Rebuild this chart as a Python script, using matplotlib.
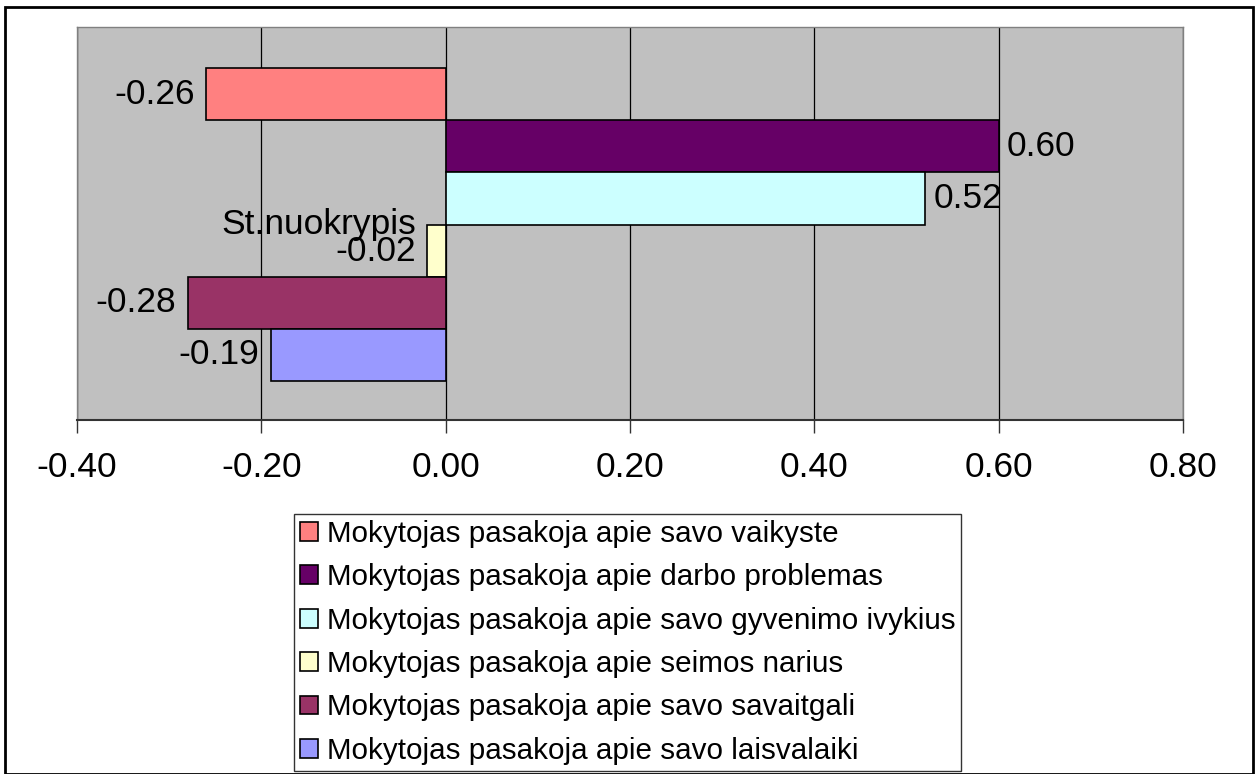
import matplotlib.pyplot as plt
from matplotlib.patches import Rectangle

plt.rcParams['font.family'] = ['Liberation Sans', 'DejaVu Sans']

series = ['Mokytojas pasakoja apie savo vaikyste',
          'Mokytojas pasakoja apie darbo problemas',
          'Mokytojas pasakoja apie savo gyvenimo ivykius',
          'Mokytojas pasakoja apie seimos narius',
          'Mokytojas pasakoja apie savo savaitgali',
          'Mokytojas pasakoja apie savo laisvalaiki']
values = [-0.26, 0.60, 0.52, -0.02, -0.28, -0.19]
colors = ['#FF8080', '#660066', '#CCFFFF', '#FFFFCC', '#993366', '#9999FF']
xticks = [-0.40, -0.20, 0.00, 0.20, 0.40, 0.60, 0.80]

fig = plt.figure(figsize=(12.58, 7.74), dpi=100)
ax = fig.add_axes([77/1258, 1-420/774, (1183-77)/1258, (420-27)/774])
ax.set_facecolor('#C0C0C0')

n = len(values)
handles = []
for i, (name, v, c) in enumerate(zip(series, values, colors)):
    y = n - 1 - i
    b = ax.barh(y, v, height=1.0, color=c, edgecolor='black', linewidth=1.2,
                label=name, zorder=3)
    handles.append(b)
    if v >= 0:
        ax.annotate('%.2f' % v, (v, y), xytext=(6, 0), textcoords='offset points',
                    ha='left', va='center', fontsize=25.5)
    elif name == 'Mokytojas pasakoja apie seimos narius':
        ax.annotate('St.nuokrypis\n%.2f' % v, (v, y), xytext=(-8, 9),
                    textcoords='offset points', ha='right', va='center',
                    fontsize=25.5, linespacing=0.78)
    else:
        ax.annotate('%.2f' % v, (v, y), xytext=(-8, 0), textcoords='offset points',
                    ha='right', va='center', fontsize=25.5)

ax.set_xlim(-0.40, 0.80)
ax.set_ylim(-1.25, 6.29)
ax.set_xticks(xticks)
ax.set_xticklabels(['%.2f' % t for t in xticks], fontsize=25.5)
ax.set_yticks([])
ax.xaxis.grid(True, color='black', linewidth=0.9, zorder=1)
ax.set_axisbelow(True)
ax.tick_params(axis='x', length=9, width=1, color='#333333', pad=13)
for s in ['left', 'right', 'top']:
    ax.spines[s].set_color('#808080')
    ax.spines[s].set_linewidth(1)
ax.spines['bottom'].set_color('#333333')
ax.spines['bottom'].set_linewidth(1.5)

leg = fig.legend(handles=handles, loc='upper left',
                 bbox_to_anchor=(294/1258, 1-514/774), fontsize=21.3,
                 frameon=True, fancybox=False, edgecolor='black',
                 handlelength=0.6, handleheight=0.6, handletextpad=0.3,
                 borderpad=0.2, labelspacing=0.52, borderaxespad=0)
leg.get_frame().set_linewidth(1)

fig.patches.append(Rectangle((5/1258, 0), 1248/1258, 767/774,
                             transform=fig.transFigure, fill=False,
                             edgecolor='black', linewidth=2))

fig.savefig('out.png', dpi=100)
